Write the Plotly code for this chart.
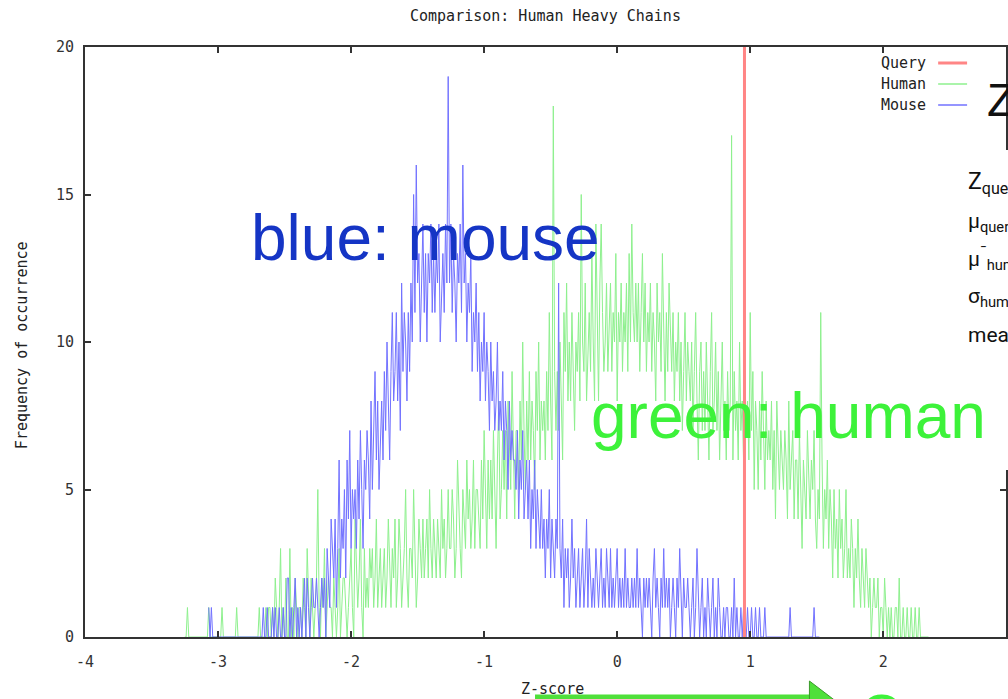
import numpy as np
import plotly.graph_objects as go

# ---------------- data ----------------
bin_width = 0.01
human_start = -3.25
human_counts = [
    0,0,1,0,0,0,0,0,0,0,
    0,0,0,0,0,0,0,0,1,0,
    0,0,0,0,0,0,0,0,1,0,
    0,0,0,0,0,0,0,0,0,1,
    0,0,0,0,0,0,0,0,0,0,
    0,0,0,0,0,0,1,0,0,0,
    0,1,0,1,1,0,1,0,2,1,
    0,1,3,0,1,0,2,0,0,3,
    0,1,0,2,1,0,1,1,0,2,
    1,0,3,1,0,2,1,0,1,2,
    5,1,0,2,1,3,0,1,2,1,
    1,0,2,1,0,1,3,0,1,2,
    2,1,0,1,2,3,1,0,4,2,
    1,2,4,1,0,3,1,2,1,3,
    2,3,1,2,4,1,2,3,1,2,
    3,1,2,4,2,1,3,2,4,1,
    2,4,3,1,2,3,5,2,1,3,
    3,2,5,3,1,2,4,3,2,4,
    2,3,4,2,5,3,2,4,3,2,
    4,3,2,5,3,4,2,3,5,3,
    3,5,4,2,3,6,4,3,2,5,
    4,3,6,4,5,3,4,6,3,5,
    5,4,3,6,4,7,5,3,6,4,
    6,4,7,5,3,6,8,4,5,7,
    5,7,4,8,6,5,9,6,4,7,
    7,5,8,6,10,7,5,8,6,9,
    6,8,7,5,9,7,10,6,8,7,
    8,6,9,7,11,8,6,18,9,7,
    9,7,10,8,6,11,9,12,8,10,
    8,11,9,7,10,9,11,8,15,10,
    9,12,8,10,11,9,13,10,8,14,
    10,8,12,14,11,9,10,12,9,11,
    12,9,11,10,13,8,11,10,12,9,
    11,10,12,9,13,10,14,11,10,12,
    10,12,9,11,13,10,12,9,11,10,
    12,9,11,10,8,12,10,11,9,13,
    10,8,11,9,12,10,9,11,8,10,
    9,11,8,10,7,9,11,8,10,9,
    8,10,7,9,11,8,6,9,10,7,
    9,7,10,8,6,9,11,7,8,10,
    7,9,6,8,10,7,8,6,9,7,
    8,17,6,9,7,8,6,10,7,8,
    6,9,7,8,6,11,7,9,5,8,
    7,5,8,6,9,7,5,8,6,7,
    6,8,5,7,4,8,6,5,7,6,
    5,7,6,4,8,5,6,7,4,6,
    6,4,7,5,3,6,5,4,7,5,
    4,6,5,7,4,3,5,4,11,6,
    3,5,4,6,3,5,4,2,5,3,
    4,2,5,3,4,2,3,5,2,3,
    2,4,3,1,3,2,4,2,1,3,
    2,1,3,2,1,2,0,1,2,1,
    1,2,0,1,1,0,2,1,0,1,
    0,1,0,0,1,1,0,2,0,0,
    1,0,0,1,0,0,1,0,0,1,
    0,0,1,0,0,0,0,0,0,0,
]

mouse_start = -3.07
mouse_counts = [
    1,0,1,0,0,0,0,0,0,0,
    0,0,0,0,0,0,0,0,0,0,
    0,0,0,0,0,0,0,0,0,0,
    0,0,0,0,0,0,0,0,0,0,
    0,1,0,0,1,0,0,0,1,0,
    1,0,0,1,0,0,1,0,0,2,
    2,0,1,0,1,2,0,1,0,1,
    0,1,2,0,2,1,0,1,2,1,
    1,2,1,0,1,2,1,2,0,3,
    2,1,4,3,2,4,1,3,6,2,
    4,3,5,2,6,4,7,3,5,4,
    5,3,6,4,7,5,3,6,5,7,
    6,4,8,5,7,9,6,8,5,7,
    8,6,9,7,10,8,6,9,11,8,
    9,11,8,10,7,12,9,11,10,8,
    11,9,12,10,15,11,16,12,13,10,
    12,14,11,13,10,13,12,14,11,13,
    11,13,12,14,10,12,13,11,14,12,
    19,12,14,11,13,12,10,13,12,14,
    11,16,12,13,10,12,11,13,9,11,
    10,12,9,11,8,10,9,11,8,10,
    9,7,10,8,9,7,8,10,7,8,
    7,9,6,8,7,5,8,6,7,6,
    6,5,7,4,6,5,7,4,5,6,
    4,6,3,5,4,6,3,5,4,3,
    5,3,4,2,4,3,5,2,4,3,
    2,4,3,12,3,2,4,1,3,2,
    3,1,2,4,2,3,1,2,3,1,
    2,3,1,2,4,1,3,2,1,2,
    1,3,2,1,2,3,1,2,1,3,
    2,1,3,1,2,1,2,3,1,2,
    1,2,1,3,1,2,1,1,2,1,
    2,1,3,1,2,1,0,2,1,2,
    1,2,1,0,2,3,1,2,1,0,
    2,1,3,1,2,1,2,0,1,2,
    1,0,2,1,3,1,0,2,1,1,
    2,1,0,1,2,0,1,3,1,0,
    1,2,0,1,0,2,1,0,1,2,
    0,1,0,2,1,0,0,1,0,1,
    1,0,0,1,0,2,0,1,0,0,
    1,0,1,0,0,1,0,0,1,0,
    0,1,0,0,1,0,0,0,1,0,
    0,0,0,0,0,0,0,0,0,0,
    0,0,0,0,0,0,0,1,0,0,
    0,0,0,0,0,0,0,0,0,0,
    0,0,0,0,0,1,0,0,0,0,
]

query_z = 0.957

x_ticks = [-4, -3, -2, -1, 0, 1, 2]
y_ticks = [0, 5, 10, 15, 20]

title_text = "Comparison: Human Heavy Chains"
x_title = "Z-score"
y_title = "Frequency of occurrence"
legend_names = ["Query", "Human", "Mouse"]

human_z = human_start + bin_width * np.arange(len(human_counts))
mouse_z = mouse_start + bin_width * np.arange(len(mouse_counts))

# ---------------- styles ----------------
C_QUERY = "#ff8585"
C_HUMAN = "#8ef08e"
C_MOUSE = "#7272ff"
AX = "#333333"
MONO = "DejaVu Sans Mono, Liberation Mono, monospace"
SANS = "Liberation Sans, Arial, sans-serif"
NARROW = "Liberation Sans Narrow, Arial Narrow, Roboto, Liberation Sans, sans-serif"

W, H = 1008, 699
L, R, T, B = 85, 1008, 47, 637


def px(x):
    return (x - L) / (R - L)


def py(y):
    return (B - y) / (B - T)


fig = go.Figure()
fig.add_trace(go.Scatter(x=human_z, y=human_counts, mode="lines",
                         line=dict(color=C_HUMAN, width=1), hoverinfo="skip",
                         name="Human"))
fig.add_trace(go.Scatter(x=mouse_z, y=mouse_counts, mode="lines",
                         line=dict(color=C_MOUSE, width=1), hoverinfo="skip",
                         name="Mouse"))
fig.add_trace(go.Scatter(x=[query_z, query_z], y=[0, 20], mode="lines",
                         line=dict(color=C_QUERY, width=3), hoverinfo="skip",
                         name="Query"))

x_range_right = -4 + (R - L) / 133.33

fig.update_layout(
    width=W, height=H,
    margin=dict(l=L, r=W - R, t=T, b=H - B, pad=0),
    paper_bgcolor="white", plot_bgcolor="white",
    showlegend=False,
    xaxis=dict(range=[-4, x_range_right], tickvals=x_ticks,
               ticktext=[str(v) for v in x_ticks],
               ticks="inside", ticklen=6, tickwidth=1.5, tickcolor=AX,
               showline=True, linecolor=AX, linewidth=2, mirror="ticks",
               showgrid=False, zeroline=False, ticklabelstandoff=10,
               tickfont=dict(family=MONO, size=15, color=AX)),
    yaxis=dict(range=[0, 20], tickvals=y_ticks,
               ticks="inside", ticklen=6, tickwidth=1.5, tickcolor=AX,
               showline=True, linecolor=AX, linewidth=2, mirror="ticks",
               showgrid=False, zeroline=False, ticklabelstandoff=6,
               tickfont=dict(family=MONO, size=15, color=AX)),
)

ann = []


def text(x, y, s, size, color, family, xanchor="center", yanchor="middle", angle=0):
    ann.append(dict(xref="paper", yref="paper", x=px(x), y=py(y), text=s,
                    showarrow=False, xanchor=xanchor, yanchor=yanchor,
                    textangle=angle,
                    font=dict(family=family, size=size, color=color)))


# titles
text(546, 16, title_text, 15, "#222222", MONO)
text(554, 689, x_title, 15, "#222222", MONO)
text(22, 345, y_title, 15, "#222222", MONO, angle=-90)

# legend
shapes = []
leg_y = [63, 84, 105]
leg_c = [C_QUERY, C_HUMAN, C_MOUSE]
leg_w = [3, 1.5, 1.5]
for name, yy, cc, ww in zip(legend_names, leg_y, leg_c, leg_w):
    text(930, yy, name, 15, "#222222", MONO, xanchor="right")
    shapes.append(dict(type="line", xref="paper", yref="paper",
                       x0=px(940), x1=px(969), y0=py(yy), y1=py(yy),
                       line=dict(color=cc, width=ww)))

# white box of the overlaid slide text
shapes.append(dict(type="rect", xref="paper", yref="paper", layer="above",
                   x0=px(952), x1=px(1030), y0=py(150), y1=py(470),
                   fillcolor="white", line=dict(width=0)))

# green arrow at the bottom
shapes.append(dict(type="line", xref="paper", yref="paper", layer="above",
                   x0=px(536), x1=px(814), y0=py(697), y1=py(697),
                   line=dict(color="#4fe03a", width=5)))
shapes.append(dict(type="path", xref="paper", yref="paper", layer="above",
                   path=f"M {px(811)} {py(681)} L {px(836)} {py(700)} L {px(811)} {py(719)} Z",
                   fillcolor="#4fe03a", line=dict(color="#3a9a2a", width=1)))

# overlay texts
text(249, 238, "blue: mouse", 64, "#1535c5", SANS, xanchor="left")
text(590, 416, "green: human", 64, "#3df23a", SANS, xanchor="left")

text(968, 183, "Z<sub>query</sub>", 23, "#111111", NARROW, xanchor="left")
text(968, 222, "μ<sub>query</sub>", 21, "#111111", NARROW, xanchor="left")
text(968, 258, "μ<sup>¯</sup><sub>human</sub>", 21, "#111111", NARROW, xanchor="left")
text(968, 297, "σ<sub>human</sub>", 21, "#111111", NARROW, xanchor="left")
text(968, 335, "mean", 21, "#111111", NARROW, xanchor="left")
text(987, 100, "Z", 46, "#111111", SANS, xanchor="left")
text(884, 680, "O", 56, "#3df23a", SANS, yanchor="top")

fig.update_layout(annotations=ann, shapes=shapes)

fig.write_html("out.html")
